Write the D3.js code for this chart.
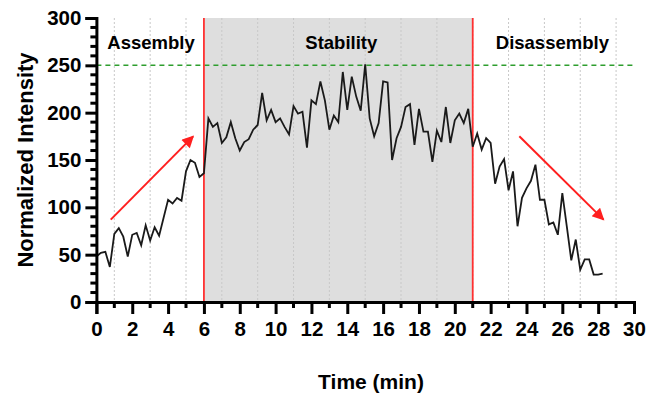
<!DOCTYPE html>
<html>
<head>
<meta charset="utf-8">
<script src="https://cdn.jsdelivr.net/npm/d3@7"></script>
<style>
  body { margin: 0; background: #fff; }
  svg text { font-family: "Liberation Sans", Arial, sans-serif; font-weight: bold; }
</style>
</head>
<body>
<script>
"use strict";

// intensity sampled every 15 s (0.25 min)
const step = 0.25;
const intensity = [
  48, 52, 53, 37, 72, 78, 69, 48, 71, 73,
  60, 81, 65, 79, 70, 89, 108, 104, 110, 107,
  138, 150, 147, 132, 136, 194, 185, 189, 168, 174,
  190, 173, 160, 169, 172, 182, 187, 221, 192, 203,
  190, 194, 185, 177, 207, 199, 201, 163, 213, 209,
  233, 213, 182, 197, 190, 243, 203, 238, 217, 202,
  251, 194, 175, 189, 233, 232, 150, 173, 185, 206,
  209, 166, 204, 180, 180, 148, 181, 169, 206, 168,
  192, 199, 189, 204, 164, 178, 161, 173, 168, 125,
  143, 151, 118, 138, 80, 110, 120, 128, 145, 108,
  108, 82, 84, 71, 115, 80, 44, 66, 34, 45,
  45, 29, 29, 30
];

const phases = ["Assembly", "Stability", "Disassembly"];
const phaseBounds = [0, 6, 21, 30];
const threshold = 250;
const xTicks = d3.range(0, 31, 2);
const yTicks = d3.range(0, 301, 50);
const arrows = [
  { t1: 0.8, v1: 87, t2: 5.4, v2: 175 },
  { t1: 23.6, v1: 175, t2: 28.3, v2: 87 }
];

const width = 648;
const height = 396;

let svg = d3.select("body").append("svg")
    .attr("width", width)
    .attr("height", height);

let x = d3.scaleLinear().domain([0, 30]).range([96.4, 634]);
let y = d3.scaleLinear().domain([0, 300]).range([302, 18]);

let defs = svg.append("defs");
defs.append("marker")
    .attr("id", "head")
    .attr("viewBox", "0 0 10 10")
    .attr("refX", 9).attr("refY", 5)
    .attr("markerWidth", 7).attr("markerHeight", 6)
    .attr("markerUnits", "strokeWidth")
    .attr("orient", "auto")
  .append("path")
    .attr("d", "M0,0L10,5L0,10Z")
    .attr("fill", "#ff1f1f");

// shaded stability window
svg.append("rect")
    .attr("x", x(phaseBounds[1]))
    .attr("y", y(300))
    .attr("width", x(phaseBounds[2]) - x(phaseBounds[1]))
    .attr("height", y(0) - y(300))
    .attr("fill", "#dedede");

// dotted grid at odd minutes
svg.append("g").selectAll("line")
    .data(d3.range(1, 30, 2))
    .enter().append("line")
    .attr("x1", d => x(d)).attr("x2", d => x(d))
    .attr("y1", y(300)).attr("y2", y(0))
    .attr("stroke", "#c8c8c8")
    .attr("stroke-width", 1)
    .attr("stroke-dasharray", "2,2");

// threshold
svg.append("line")
    .attr("x1", x(0)).attr("x2", x(30))
    .attr("y1", y(threshold)).attr("y2", y(threshold))
    .attr("stroke", "#2e9e2e")
    .attr("stroke-width", 1.5)
    .attr("stroke-dasharray", "5,4");

// phase boundaries
svg.append("g").selectAll("line")
    .data(phaseBounds.slice(1, 3))
    .enter().append("line")
    .attr("x1", d => x(d)).attr("x2", d => x(d))
    .attr("y1", y(300)).attr("y2", y(0))
    .attr("stroke", "#ff3030")
    .attr("stroke-width", 1.8);

// phase labels
svg.append("g").selectAll("text")
    .data(phases)
    .enter().append("text")
    .attr("x", (d, i) => i === 0 ? 151 : (x(phaseBounds[i]) + x(phaseBounds[i + 1])) / 2 + (i === 2 ? -1 : 3))
    .attr("y", 49)
    .attr("text-anchor", "middle")
    .attr("font-size", 18.5)
    .text(d => d);

// data line
let line = d3.line()
    .x((d, i) => x(i * step))
    .y(d => y(d));

svg.append("path")
    .datum(intensity)
    .attr("d", line)
    .attr("fill", "none")
    .attr("stroke", "#1a1a1a")
    .attr("stroke-width", 1.8)
    .attr("stroke-linejoin", "miter");

// trend arrows
svg.append("g").selectAll("line")
    .data(arrows)
    .enter().append("line")
    .attr("x1", d => x(d.t1)).attr("y1", d => y(d.v1))
    .attr("x2", d => x(d.t2)).attr("y2", d => y(d.v2))
    .attr("stroke", "#ff1f1f")
    .attr("stroke-width", 2)
    .attr("marker-end", "url(#head)");

// y axis
let yAxis = svg.append("g")
    .attr("transform", `translate(${x(0)},0)`)
    .call(d3.axisLeft(y).tickValues(yTicks).tickSize(11).tickPadding(4));
yAxis.append("g").selectAll("line")
    .data(d3.range(0, 301, 10).filter(d => d % 50 !== 0))
    .enter().append("line")
    .attr("x1", -6).attr("x2", 0)
    .attr("y1", d => y(d)).attr("y2", d => y(d))
    .attr("stroke", "#000").attr("stroke-width", 3);

// x axis
let xAxis = svg.append("g")
    .attr("transform", `translate(0,${y(0)})`)
    .call(d3.axisBottom(x).tickValues(xTicks).tickSize(12).tickPadding(7));
xAxis.append("g").selectAll("line")
    .data(d3.range(1, 30, 2))
    .enter().append("line")
    .attr("x1", d => x(d)).attr("x2", d => x(d))
    .attr("y1", 0).attr("y2", 6)
    .attr("stroke", "#000").attr("stroke-width", 3);

svg.selectAll(".domain")
    .attr("stroke", "#000")
    .attr("stroke-width", 3);
svg.selectAll(".tick line")
    .attr("stroke", "#000")
    .attr("stroke-width", 3);
svg.selectAll(".tick text")
    .attr("font-size", 20.5)
    .attr("font-family", "'Liberation Sans', Arial, sans-serif")
    .attr("font-weight", "bold")
    .attr("fill", "#000");

// axis titles
svg.append("text")
    .attr("transform", "translate(33,160) rotate(-90)")
    .attr("text-anchor", "middle")
    .attr("font-size", 22)
    .text("Normalized Intensity");

svg.append("text")
    .attr("x", 371)
    .attr("y", 389)
    .attr("text-anchor", "middle")
    .attr("font-size", 21)
    .text("Time (min)");
</script>
</body>
</html>
